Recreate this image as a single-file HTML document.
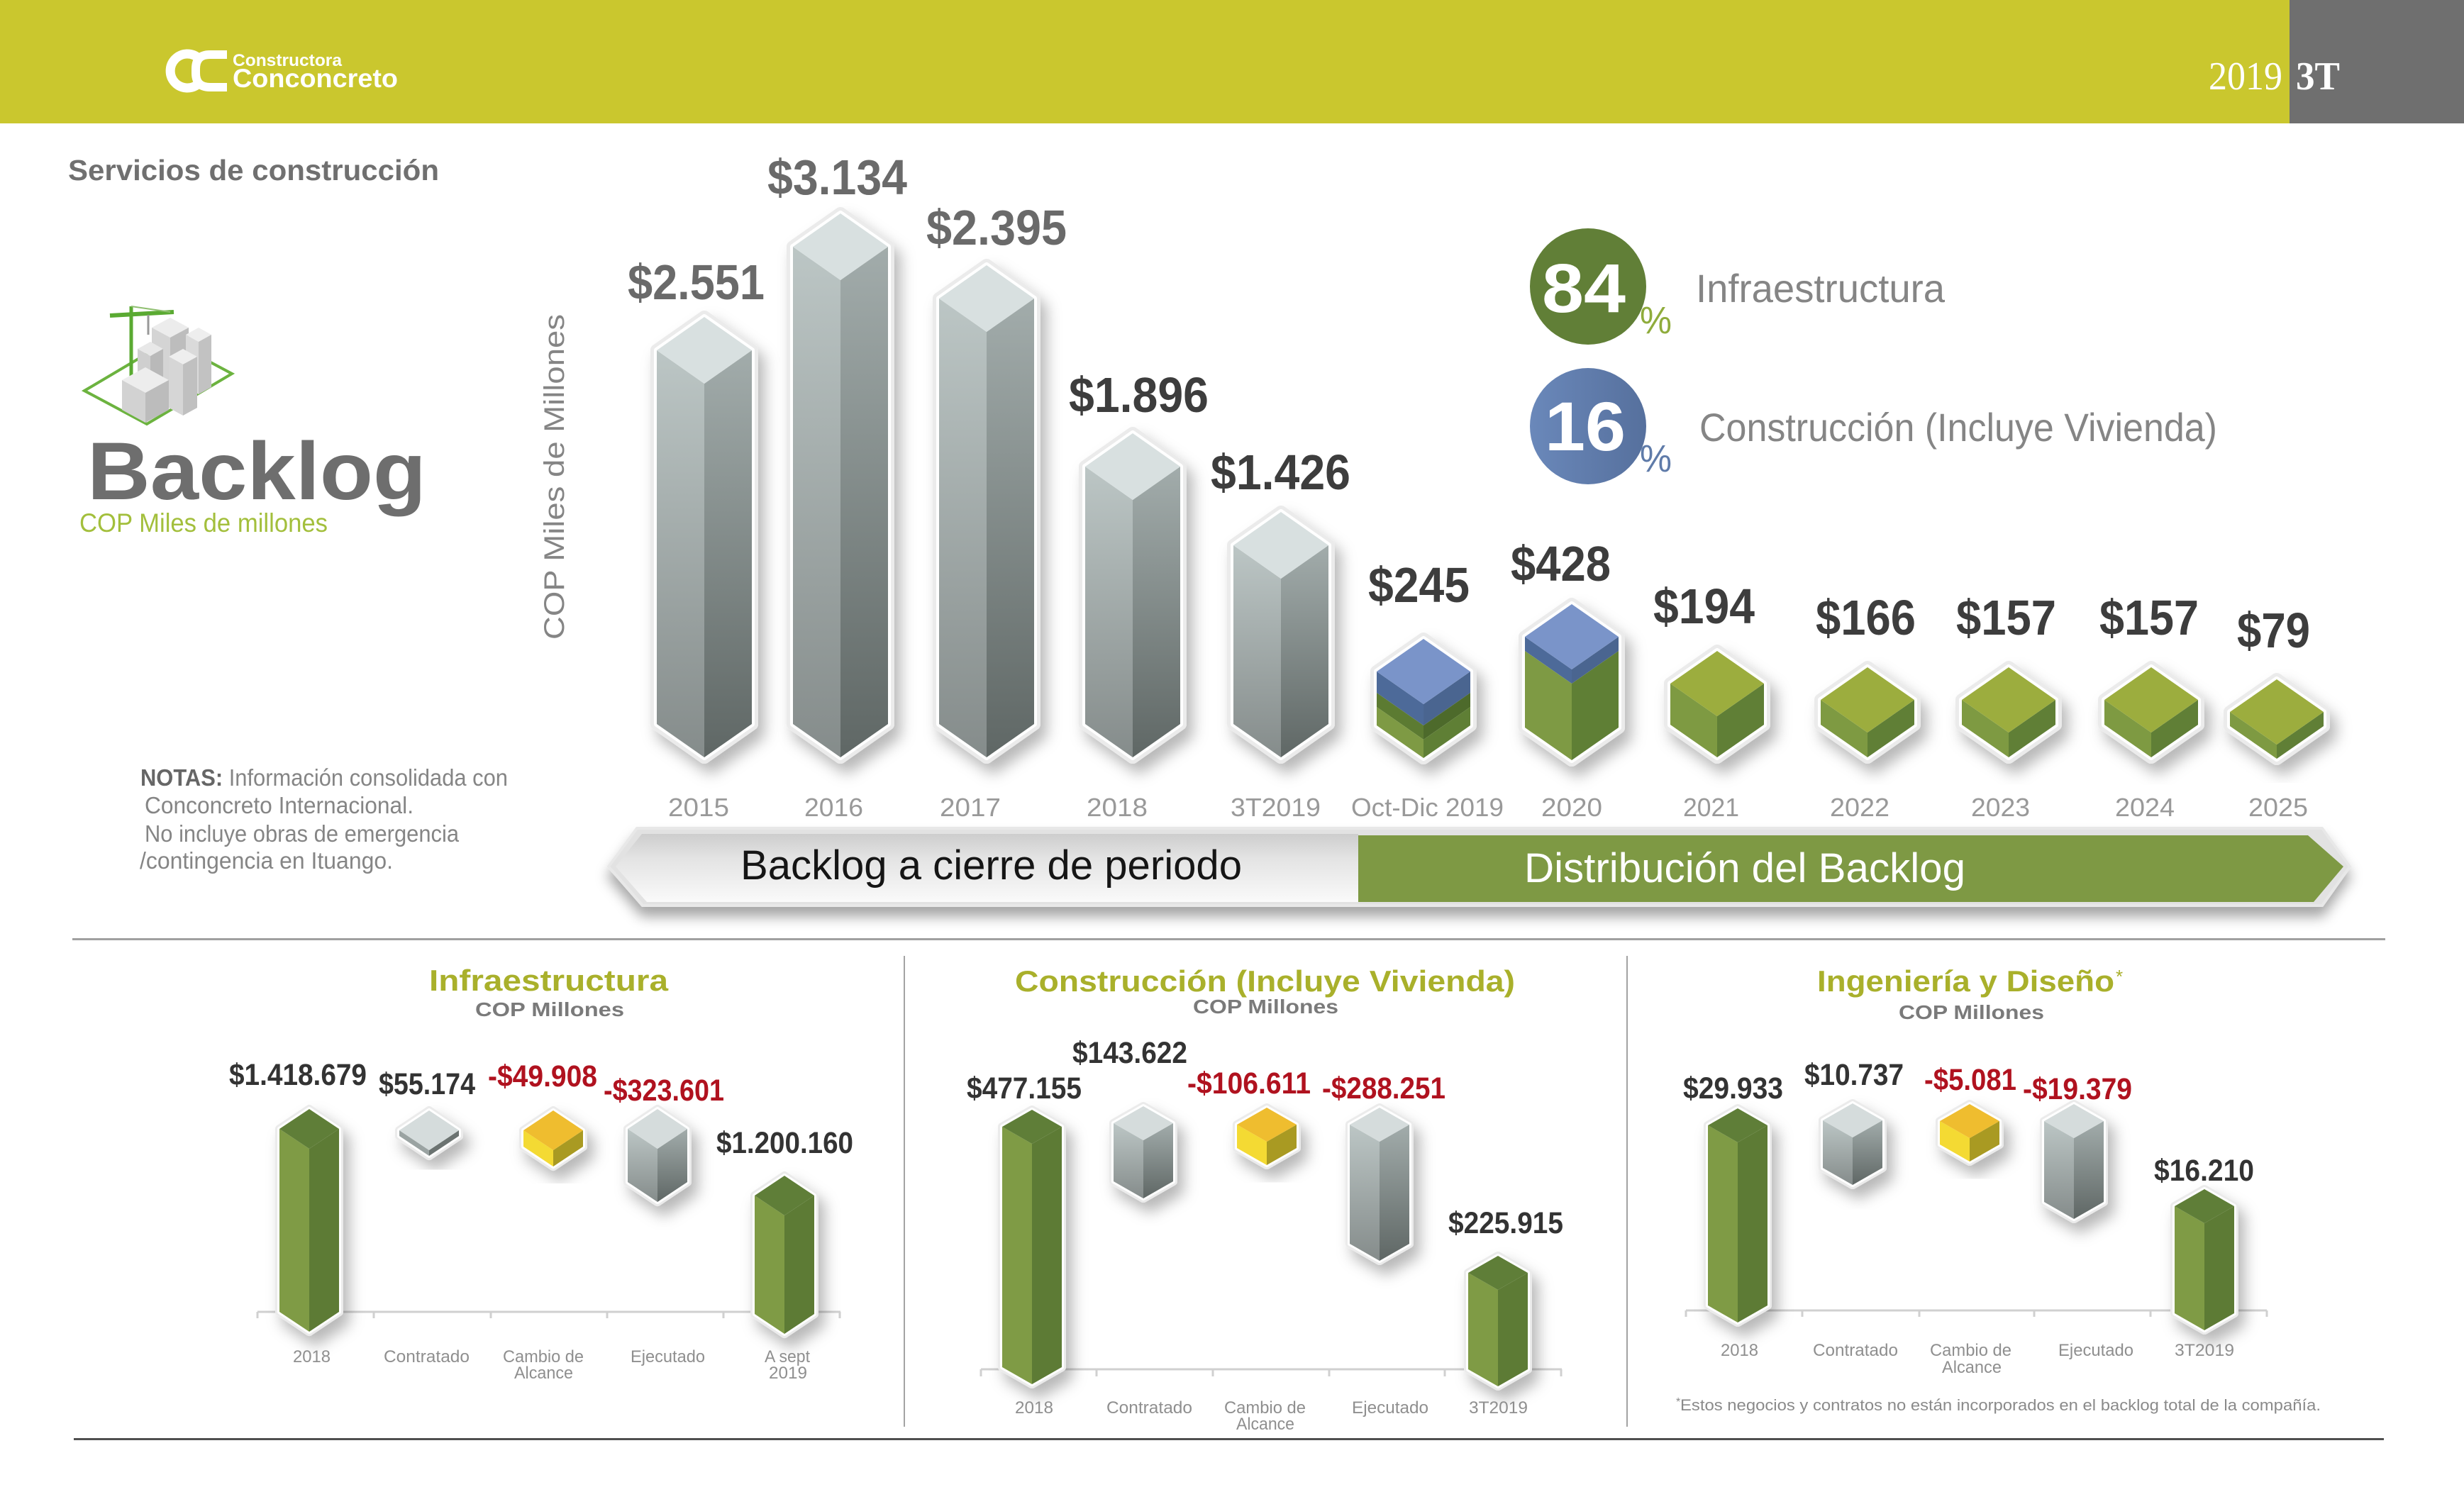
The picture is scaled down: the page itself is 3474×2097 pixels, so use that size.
<!DOCTYPE html>
<html><head><meta charset="utf-8"><style>
html,body{margin:0;padding:0;background:#fff;width:3474px;height:2097px;overflow:hidden}
svg{display:block}
text{font-family:"Liberation Sans",sans-serif}
</style></head><body>
<svg width="3474" height="2097" viewBox="0 0 3474 2097" xmlns="http://www.w3.org/2000/svg">
<defs>
<filter id="sh" x="-40%" y="-20%" width="190%" height="150%"><feDropShadow dx="9" dy="14" stdDeviation="10" flood-color="#000" flood-opacity="0.28"/></filter>
<filter id="sh2" x="-10%" y="-40%" width="120%" height="200%"><feDropShadow dx="0" dy="14" stdDeviation="9" flood-color="#000" flood-opacity="0.35"/></filter>
<linearGradient id="gL" x1="0" y1="0" x2="0" y2="1"><stop offset="0" stop-color="#bcc6c5"/><stop offset="1" stop-color="#858c8b"/></linearGradient>
<linearGradient id="gR" x1="0" y1="0" x2="0" y2="1"><stop offset="0" stop-color="#a2acab"/><stop offset="1" stop-color="#5f6765"/></linearGradient>
<linearGradient id="rb" x1="0" y1="0" x2="0" y2="1"><stop offset="0" stop-color="#cdcdcd"/><stop offset="0.35" stop-color="#e3e3e3"/><stop offset="1" stop-color="#fafafa"/></linearGradient>
<linearGradient id="bl" x1="0" y1="0" x2="1" y2="0"><stop offset="0" stop-color="#6a88ba"/><stop offset="1" stop-color="#56709d"/></linearGradient>
</defs>

<!-- Header -->
<rect x="0" y="0" width="3474" height="174" fill="#cac72e"/>
<rect x="3228" y="0" width="246" height="174" fill="#6f6f6f"/>
<text x="3114" y="126" font-size="56" fill="#fff" textLength="104" lengthAdjust="spacingAndGlyphs" style="font-family:'Liberation Serif',serif">2019</text>
<text x="3237" y="126" font-size="56" font-weight="bold" fill="#fff" textLength="62" lengthAdjust="spacingAndGlyphs" style="font-family:'Liberation Serif',serif">3T</text>
<!-- logo -->
<path d="M 280 82 A 24 24 0 1 0 280 118" fill="none" stroke="#fff" stroke-width="13"/>
<path d="M 320 77 H 296 Q 276 77 276 97 V 103 Q 276 123 296 123 H 320" fill="none" stroke="#fff" stroke-width="12"/>
<text x="328" y="93" font-size="24" font-weight="bold" fill="#fff" textLength="154" lengthAdjust="spacingAndGlyphs">Constructora</text>
<text x="328" y="123" font-size="37" font-weight="bold" fill="#fff" textLength="233" lengthAdjust="spacingAndGlyphs">Conconcreto</text>

<!-- Left titles -->
<text x="96" y="254" font-size="41" font-weight="bold" fill="#707070" textLength="523" lengthAdjust="spacingAndGlyphs">Servicios de construcción</text>

<!-- icon -->
<polygon points="119,551 239,480 327,527 207,598" fill="none" stroke="#6cb33f" stroke-width="4"/>
<line x1="185" y1="432" x2="185" y2="540" stroke="#5aaa32" stroke-width="5"/>
<line x1="155" y1="445" x2="245" y2="440" stroke="#5aaa32" stroke-width="6"/>
<line x1="185" y1="432" x2="240" y2="440" stroke="#8fbf70" stroke-width="2"/>
<line x1="209" y1="444" x2="209" y2="472" stroke="#999" stroke-width="3"/>
<polygon points="240,448 266,462 240,476 214,462" fill="#ececec"/><polygon points="214,462 240,476 240,571 214,557" fill="#d4d4d4"/><polygon points="266,462 240,476 240,571 266,557" fill="#bdbdbd"/>
<polygon points="280,462 298,472 280,482 262,472" fill="#eeeeee"/><polygon points="262,472 280,482 280,556 262,546" fill="#dadada"/><polygon points="298,472 280,482 280,556 298,546" fill="#c2c2c2"/>
<polygon points="212,482 230,492 212,502 194,492" fill="#e8e8e8"/><polygon points="194,492 212,502 212,564 194,554" fill="#cfcfcf"/><polygon points="230,492 212,502 212,564 230,554" fill="#b9b9b9"/>
<polygon points="258,492 278,503 258,514 238,503" fill="#eeeeee"/><polygon points="238,503 258,514 258,586 238,575" fill="#d6d6d6"/><polygon points="278,503 258,514 258,586 278,575" fill="#c0c0c0"/>
<polygon points="205,518 238,536 205,554 172,536" fill="#ededed"/><polygon points="172,536 205,554 205,596 172,578" fill="#d2d2d2"/><polygon points="238,536 205,554 205,596 238,578" fill="#bcbcbc"/>

<text x="123" y="704" font-size="115" font-weight="bold" fill="#6e6e6e" textLength="478" lengthAdjust="spacingAndGlyphs">Backlog</text>
<text x="112" y="750" font-size="37" fill="#a3bf3c" textLength="350" lengthAdjust="spacingAndGlyphs">COP Miles de millones</text>

<!-- y axis label -->
<text transform="translate(795,902) rotate(-90)" x="0" y="0" font-size="40" fill="#858585" textLength="459" lengthAdjust="spacingAndGlyphs">COP Miles de Millones</text>

<!-- Notes -->
<text x="198" y="1108" font-size="33" fill="#858585" textLength="518" lengthAdjust="spacingAndGlyphs"><tspan font-weight="bold" fill="#666">NOTAS:</tspan> Información consolidada con</text>
<text x="204" y="1147" font-size="33" fill="#858585" textLength="379" lengthAdjust="spacingAndGlyphs">Conconcreto Internacional.</text>
<text x="204" y="1187" font-size="33" fill="#858585" textLength="443" lengthAdjust="spacingAndGlyphs">No incluye obras de emergencia</text>
<text x="197" y="1225" font-size="33" fill="#858585" textLength="357" lengthAdjust="spacingAndGlyphs">/contingencia en Ituango.</text>

<!-- Circles legend -->
<circle cx="2239" cy="404" r="82" fill="#617f37"/>
<text x="2174" y="440" font-size="97" font-weight="bold" fill="#fff" textLength="118" lengthAdjust="spacingAndGlyphs">84</text>
<text x="2312" y="470" font-size="54" fill="#8fac3c" textLength="45" lengthAdjust="spacingAndGlyphs">%</text>
<text x="2391" y="426" font-size="56" fill="#858585" textLength="351" lengthAdjust="spacingAndGlyphs">Infraestructura</text>
<circle cx="2239" cy="601" r="82" fill="url(#bl)"/>
<text x="2178" y="635" font-size="97" font-weight="bold" fill="#fff" textLength="114" lengthAdjust="spacingAndGlyphs">16</text>
<text x="2312" y="665" font-size="54" fill="#5f7ba9" textLength="45" lengthAdjust="spacingAndGlyphs">%</text>
<text x="2396" y="622" font-size="56" fill="#858585" textLength="730" lengthAdjust="spacingAndGlyphs">Construcción (Incluye Vivienda)</text>

<!-- Main bars -->
<g stroke-linejoin="round">
<g filter="url(#sh)"><polygon points="993,447 1060,494 1060,1021 993,1068 926,1021 926,494" fill="#fff" stroke="#ebebeb" stroke-width="18"/><polygon points="993,447 1060,494 1060,1021 993,1068 926,1021 926,494" fill="#fff" stroke="#fff" stroke-width="8"/></g>
<polygon points="926,494 993,541 993,1068 926,1021" fill="url(#gL)"/><polygon points="1060,494 993,541 993,1068 1060,1021" fill="url(#gR)"/><polygon points="993,447 1060,494 993,541 926,494" fill="#d8e0e0"/>
<g filter="url(#sh)"><polygon points="1185,301 1252,348 1252,1021 1185,1068 1118,1021 1118,348" fill="#fff" stroke="#ebebeb" stroke-width="18"/><polygon points="1185,301 1252,348 1252,1021 1185,1068 1118,1021 1118,348" fill="#fff" stroke="#fff" stroke-width="8"/></g>
<polygon points="1118,348 1185,395 1185,1068 1118,1021" fill="url(#gL)"/><polygon points="1252,348 1185,395 1185,1068 1252,1021" fill="url(#gR)"/><polygon points="1185,301 1252,348 1185,395 1118,348" fill="#d8e0e0"/>
<g filter="url(#sh)"><polygon points="1391,374 1458,421 1458,1021 1391,1068 1324,1021 1324,421" fill="#fff" stroke="#ebebeb" stroke-width="18"/><polygon points="1391,374 1458,421 1458,1021 1391,1068 1324,1021 1324,421" fill="#fff" stroke="#fff" stroke-width="8"/></g>
<polygon points="1324,421 1391,468 1391,1068 1324,1021" fill="url(#gL)"/><polygon points="1458,421 1391,468 1391,1068 1458,1021" fill="url(#gR)"/><polygon points="1391,374 1458,421 1391,468 1324,421" fill="#d8e0e0"/>
<g filter="url(#sh)"><polygon points="1597,611 1664,658 1664,1021 1597,1068 1530,1021 1530,658" fill="#fff" stroke="#ebebeb" stroke-width="18"/><polygon points="1597,611 1664,658 1664,1021 1597,1068 1530,1021 1530,658" fill="#fff" stroke="#fff" stroke-width="8"/></g>
<polygon points="1530,658 1597,705 1597,1068 1530,1021" fill="url(#gL)"/><polygon points="1664,658 1597,705 1597,1068 1664,1021" fill="url(#gR)"/><polygon points="1597,611 1664,658 1597,705 1530,658" fill="#d8e0e0"/>
<g filter="url(#sh)"><polygon points="1806,722 1873,769 1873,1021 1806,1068 1739,1021 1739,769" fill="#fff" stroke="#ebebeb" stroke-width="18"/><polygon points="1806,722 1873,769 1873,1021 1806,1068 1739,1021 1739,769" fill="#fff" stroke="#fff" stroke-width="8"/></g>
<polygon points="1739,769 1806,816 1806,1068 1739,1021" fill="url(#gL)"/><polygon points="1873,769 1806,816 1806,1068 1873,1021" fill="url(#gR)"/><polygon points="1806,722 1873,769 1806,816 1739,769" fill="#d8e0e0"/>
<g filter="url(#sh)"><polygon points="2007,901 2073,947 2073,1023 2007,1069 1941,1023 1941,947" fill="#fff" stroke="#ebebeb" stroke-width="18"/><polygon points="2007,901 2073,947 2073,1023 2007,1069 1941,1023 1941,947" fill="#fff" stroke="#fff" stroke-width="8"/></g>
<polygon points="1941,947 2007,993 2007,1023 1941,977" fill="#4d6a99"/><polygon points="1941,977 2007,1023 2007,1043 1941,997" fill="#5c7b32"/><polygon points="1941,997 2007,1043 2007,1069 1941,1023" fill="#7e9a44"/>
<polygon points="2073,947 2007,993 2007,1023 2073,977" fill="#4a6590"/><polygon points="2073,977 2007,1023 2007,1043 2073,997" fill="#4d6a2b"/><polygon points="2073,997 2007,1043 2007,1069 2073,1023" fill="#5f7f35"/>
<polygon points="2007,901 2073,947 2007,993 1941,947" fill="#7a94c9"/>
<g filter="url(#sh)"><polygon points="2216,852 2282,898 2282,1026 2216,1072 2150,1026 2150,898" fill="#fff" stroke="#ebebeb" stroke-width="18"/><polygon points="2216,852 2282,898 2282,1026 2216,1072 2150,1026 2150,898" fill="#fff" stroke="#fff" stroke-width="8"/></g>
<polygon points="2150,898 2216,944 2216,964 2150,918" fill="#4d6a99"/><polygon points="2150,918 2216,964 2216,1072 2150,1026" fill="#7e9a44"/>
<polygon points="2282,898 2216,944 2216,964 2282,918" fill="#4a6590"/><polygon points="2282,918 2216,964 2216,1072 2282,1026" fill="#5f7f35"/>
<polygon points="2216,852 2282,898 2216,944 2150,898" fill="#7a94c9"/>
<g filter="url(#sh)"><polygon points="2421,918 2487,964 2487,1022 2421,1068 2355,1022 2355,964" fill="#fff" stroke="#ebebeb" stroke-width="18"/><polygon points="2421,918 2487,964 2487,1022 2421,1068 2355,1022 2355,964" fill="#fff" stroke="#fff" stroke-width="8"/></g>
<polygon points="2355,964 2421,1010 2421,1068 2355,1022" fill="#7e9a42"/><polygon points="2487,964 2421,1010 2421,1068 2487,1022" fill="#607f36"/><polygon points="2421,918 2487,964 2421,1010 2355,964" fill="#9cad3e"/>
<g filter="url(#sh)"><polygon points="2633,941 2699,987 2699,1022 2633,1068 2567,1022 2567,987" fill="#fff" stroke="#ebebeb" stroke-width="18"/><polygon points="2633,941 2699,987 2699,1022 2633,1068 2567,1022 2567,987" fill="#fff" stroke="#fff" stroke-width="8"/></g>
<polygon points="2567,987 2633,1033 2633,1068 2567,1022" fill="#7e9a42"/><polygon points="2699,987 2633,1033 2633,1068 2699,1022" fill="#607f36"/><polygon points="2633,941 2699,987 2633,1033 2567,987" fill="#9cad3e"/>
<g filter="url(#sh)"><polygon points="2832,941 2898,987 2898,1022 2832,1068 2766,1022 2766,987" fill="#fff" stroke="#ebebeb" stroke-width="18"/><polygon points="2832,941 2898,987 2898,1022 2832,1068 2766,1022 2766,987" fill="#fff" stroke="#fff" stroke-width="8"/></g>
<polygon points="2766,987 2832,1033 2832,1068 2766,1022" fill="#7e9a42"/><polygon points="2898,987 2832,1033 2832,1068 2898,1022" fill="#607f36"/><polygon points="2832,941 2898,987 2832,1033 2766,987" fill="#9cad3e"/>
<g filter="url(#sh)"><polygon points="3033,941 3099,987 3099,1022 3033,1068 2967,1022 2967,987" fill="#fff" stroke="#ebebeb" stroke-width="18"/><polygon points="3033,941 3099,987 3099,1022 3033,1068 2967,1022 2967,987" fill="#fff" stroke="#fff" stroke-width="8"/></g>
<polygon points="2967,987 3033,1033 3033,1068 2967,1022" fill="#7e9a42"/><polygon points="3099,987 3033,1033 3033,1068 3099,1022" fill="#607f36"/><polygon points="3033,941 3099,987 3033,1033 2967,987" fill="#9cad3e"/>
<g filter="url(#sh)"><polygon points="3210,958 3276,1004 3276,1024 3210,1070 3144,1024 3144,1004" fill="#fff" stroke="#ebebeb" stroke-width="18"/><polygon points="3210,958 3276,1004 3276,1024 3210,1070 3144,1024 3144,1004" fill="#fff" stroke="#fff" stroke-width="8"/></g>
<polygon points="3144,1004 3210,1050 3210,1070 3144,1024" fill="#7e9a42"/><polygon points="3276,1004 3210,1050 3210,1070 3276,1024" fill="#607f36"/><polygon points="3210,958 3276,1004 3210,1050 3144,1004" fill="#9cad3e"/>
</g>

<!-- Main value labels -->
<g font-weight="bold" font-size="70">
<text x="885" y="422" fill="#6a6a6a" textLength="193" lengthAdjust="spacingAndGlyphs">$2.551</text>
<text x="1082" y="274" fill="#6a6a6a" textLength="197" lengthAdjust="spacingAndGlyphs">$3.134</text>
<text x="1306" y="345" fill="#6a6a6a" textLength="198" lengthAdjust="spacingAndGlyphs">$2.395</text>
<text x="1507" y="581" fill="#3d3d3d" textLength="197" lengthAdjust="spacingAndGlyphs">$1.896</text>
<text x="1707" y="690" fill="#3d3d3d" textLength="197" lengthAdjust="spacingAndGlyphs">$1.426</text>
<text x="1929" y="849" fill="#3d3d3d" textLength="143" lengthAdjust="spacingAndGlyphs">$245</text>
<text x="2130" y="819" fill="#3d3d3d" textLength="141" lengthAdjust="spacingAndGlyphs">$428</text>
<text x="2331" y="879" fill="#3d3d3d" textLength="143" lengthAdjust="spacingAndGlyphs">$194</text>
<text x="2560" y="895" fill="#3d3d3d" textLength="141" lengthAdjust="spacingAndGlyphs">$166</text>
<text x="2758" y="895" fill="#3d3d3d" textLength="141" lengthAdjust="spacingAndGlyphs">$157</text>
<text x="2960" y="895" fill="#3d3d3d" textLength="140" lengthAdjust="spacingAndGlyphs">$157</text>
<text x="3154" y="913" fill="#3d3d3d" textLength="103" lengthAdjust="spacingAndGlyphs">$79</text>
</g>

<!-- Year labels -->
<g font-size="36" fill="#999">
<text x="942" y="1151" textLength="86" lengthAdjust="spacingAndGlyphs">2015</text>
<text x="1134" y="1151" textLength="83" lengthAdjust="spacingAndGlyphs">2016</text>
<text x="1325" y="1151" textLength="86" lengthAdjust="spacingAndGlyphs">2017</text>
<text x="1532" y="1151" textLength="86" lengthAdjust="spacingAndGlyphs">2018</text>
<text x="1735" y="1151" textLength="127" lengthAdjust="spacingAndGlyphs">3T2019</text>
<text x="1905" y="1151" textLength="215" lengthAdjust="spacingAndGlyphs">Oct-Dic 2019</text>
<text x="2173" y="1151" textLength="86" lengthAdjust="spacingAndGlyphs">2020</text>
<text x="2373" y="1151" textLength="79" lengthAdjust="spacingAndGlyphs">2021</text>
<text x="2580" y="1151" textLength="84" lengthAdjust="spacingAndGlyphs">2022</text>
<text x="2779" y="1151" textLength="83" lengthAdjust="spacingAndGlyphs">2023</text>
<text x="2982" y="1151" textLength="84" lengthAdjust="spacingAndGlyphs">2024</text>
<text x="3170" y="1151" textLength="84" lengthAdjust="spacingAndGlyphs">2025</text>
</g>

<!-- Ribbon -->
<polygon points="898,1168 3274,1168 3313,1222 3274,1277 906,1277 858,1222" fill="#e2e2e2" stroke="#e8e8e8" stroke-width="4" stroke-linejoin="round" filter="url(#sh2)"/>
<polygon points="905,1176 1915,1176 1915,1272 912,1272 868,1222" fill="url(#rb)"/>
<polygon points="1915,1178 3254,1178 3304,1222 3262,1272 1915,1272" fill="#7e9944"/>
<text x="1044" y="1240" font-size="58" fill="#151515" textLength="707" lengthAdjust="spacingAndGlyphs">Backlog a cierre de periodo</text>
<text x="2149" y="1244" font-size="58" fill="#fff" textLength="622" lengthAdjust="spacingAndGlyphs">Distribución del Backlog</text>

<!-- separators -->
<rect x="102" y="1323" width="3261" height="3" fill="#a0a0a0"/>
<rect x="1274" y="1348" width="2" height="664" fill="#a3a3a3"/>
<rect x="2293" y="1348" width="2" height="664" fill="#a3a3a3"/>
<rect x="104" y="2028" width="3257" height="3" fill="#505050"/>

<!-- Panel titles -->
<text x="605" y="1397" font-size="42" font-weight="bold" fill="#a9b02b" textLength="337" lengthAdjust="spacingAndGlyphs">Infraestructura</text>
<text x="670" y="1433" font-size="28" font-weight="bold" fill="#7a7a7a" textLength="210" lengthAdjust="spacingAndGlyphs">COP Millones</text>
<text x="1431" y="1398" font-size="42" font-weight="bold" fill="#a9b02b" textLength="705" lengthAdjust="spacingAndGlyphs">Construcción (Incluye Vivienda)</text>
<text x="1682" y="1429" font-size="28" font-weight="bold" fill="#7a7a7a" textLength="205" lengthAdjust="spacingAndGlyphs">COP Millones</text>
<text x="2562" y="1398" font-size="42" font-weight="bold" fill="#a9b02b" textLength="419" lengthAdjust="spacingAndGlyphs">Ingeniería y Diseño</text>
<text x="2983" y="1386" font-size="26" fill="#a9b02b">*</text>
<text x="2677" y="1437" font-size="28" font-weight="bold" fill="#7a7a7a" textLength="205" lengthAdjust="spacingAndGlyphs">COP Millones</text>

<!-- Axes -->
<g stroke="#d0d0d0" stroke-width="3" fill="none">
<path d="M363 1850 H1185 M363 1850 V1859 M527 1850 V1859 M692 1850 V1859 M856 1850 V1859 M1020 1850 V1859 M1184 1850 V1859"/>
<path d="M1383 1931 H2202 M1383 1931 V1941 M1546 1931 V1941 M1710 1931 V1941 M1874 1931 V1941 M2037 1931 V1941 M2201 1931 V1941"/>
<path d="M2377 1848 H3196 M2377 1848 V1857 M2541 1848 V1857 M2706 1848 V1857 M2868 1848 V1857 M3032 1848 V1857 M3196 1848 V1857"/>
</g>

<!-- Panel bars -->
<g stroke-linejoin="round">
<g filter="url(#sh)"><polygon points="436,1564 478,1592 478,1850 436,1878 394,1850 394,1592" fill="#fff" stroke="#ebebeb" stroke-width="12"/><polygon points="436,1564 478,1592 478,1850 436,1878 394,1850 394,1592" fill="#fff" stroke="#fff" stroke-width="6"/></g>
<polygon points="394,1592 436,1620 436,1878 394,1850" fill="#7f9b45"/><polygon points="478,1592 436,1620 436,1878 478,1850" fill="#5d7b35"/><polygon points="436,1564 478,1592 436,1620 394,1592" fill="#5f7e38"/>
<g filter="url(#sh)"><polygon points="605,1566 647,1594 647,1602 605,1630 563,1602 563,1594" fill="#fff" stroke="#ebebeb" stroke-width="12"/><polygon points="605,1566 647,1594 647,1602 605,1630 563,1602 563,1594" fill="#fff" stroke="#fff" stroke-width="6"/></g>
<polygon points="563,1594 605,1622 605,1630 563,1602" fill="#9aa3a2"/><polygon points="647,1594 605,1622 605,1630 647,1602" fill="#6b7371"/><polygon points="605,1566 647,1594 605,1622 563,1594" fill="#d5dcdc"/>
<g filter="url(#sh)"><polygon points="780,1566 822,1594 822,1617 780,1645 738,1617 738,1594" fill="#fff" stroke="#ebebeb" stroke-width="12"/><polygon points="780,1566 822,1594 822,1617 780,1645 738,1617 738,1594" fill="#fff" stroke="#fff" stroke-width="6"/></g>
<polygon points="738,1594 780,1622 780,1645 738,1617" fill="#f4da33"/><polygon points="822,1594 780,1622 780,1645 822,1617" fill="#a99a22"/><polygon points="780,1566 822,1594 780,1622 738,1594" fill="#efbd2f"/>
<g filter="url(#sh)"><polygon points="927,1564 969,1592 969,1667 927,1695 885,1667 885,1592" fill="#fff" stroke="#ebebeb" stroke-width="12"/><polygon points="927,1564 969,1592 969,1667 927,1695 885,1667 885,1592" fill="#fff" stroke="#fff" stroke-width="6"/></g>
<polygon points="885,1592 927,1620 927,1695 885,1667" fill="url(#gL)"/><polygon points="969,1592 927,1620 927,1695 969,1667" fill="url(#gR)"/><polygon points="927,1564 969,1592 927,1620 885,1592" fill="#d5dcdc"/>
<g filter="url(#sh)"><polygon points="1106,1658 1148,1686 1148,1853 1106,1881 1064,1853 1064,1686" fill="#fff" stroke="#ebebeb" stroke-width="12"/><polygon points="1106,1658 1148,1686 1148,1853 1106,1881 1064,1853 1064,1686" fill="#fff" stroke="#fff" stroke-width="6"/></g>
<polygon points="1064,1686 1106,1714 1106,1881 1064,1853" fill="#7f9b45"/><polygon points="1148,1686 1106,1714 1106,1881 1148,1853" fill="#5d7b35"/><polygon points="1106,1658 1148,1686 1106,1714 1064,1686" fill="#5f7e38"/>

<g filter="url(#sh)"><polygon points="1455,1565 1497,1589 1497,1928 1455,1952 1413,1928 1413,1589" fill="#fff" stroke="#ebebeb" stroke-width="12"/><polygon points="1455,1565 1497,1589 1497,1928 1455,1952 1413,1928 1413,1589" fill="#fff" stroke="#fff" stroke-width="6"/></g>
<polygon points="1413,1589 1455,1613 1455,1952 1413,1928" fill="#7f9b45"/><polygon points="1497,1589 1455,1613 1455,1952 1497,1928" fill="#5d7b35"/><polygon points="1455,1565 1497,1589 1455,1613 1413,1589" fill="#5f7e38"/>
<g filter="url(#sh)"><polygon points="1612,1560 1654,1584 1654,1666 1612,1690 1570,1666 1570,1584" fill="#fff" stroke="#ebebeb" stroke-width="12"/><polygon points="1612,1560 1654,1584 1654,1666 1612,1690 1570,1666 1570,1584" fill="#fff" stroke="#fff" stroke-width="6"/></g>
<polygon points="1570,1584 1612,1608 1612,1690 1570,1666" fill="url(#gL)"/><polygon points="1654,1584 1612,1608 1612,1690 1654,1666" fill="url(#gR)"/><polygon points="1612,1560 1654,1584 1612,1608 1570,1584" fill="#d5dcdc"/>
<g filter="url(#sh)"><polygon points="1786,1562 1828,1586 1828,1619 1786,1643 1744,1619 1744,1586" fill="#fff" stroke="#ebebeb" stroke-width="12"/><polygon points="1786,1562 1828,1586 1828,1619 1786,1643 1744,1619 1744,1586" fill="#fff" stroke="#fff" stroke-width="6"/></g>
<polygon points="1744,1586 1786,1610 1786,1643 1744,1619" fill="#f4da33"/><polygon points="1828,1586 1786,1610 1786,1643 1828,1619" fill="#a99a22"/><polygon points="1786,1562 1828,1586 1786,1610 1744,1586" fill="#efbd2f"/>
<g filter="url(#sh)"><polygon points="1945,1562 1987,1586 1987,1754 1945,1778 1903,1754 1903,1586" fill="#fff" stroke="#ebebeb" stroke-width="12"/><polygon points="1945,1562 1987,1586 1987,1754 1945,1778 1903,1754 1903,1586" fill="#fff" stroke="#fff" stroke-width="6"/></g>
<polygon points="1903,1586 1945,1610 1945,1778 1903,1754" fill="url(#gL)"/><polygon points="1987,1586 1945,1610 1945,1778 1987,1754" fill="url(#gR)"/><polygon points="1945,1562 1987,1586 1945,1610 1903,1586" fill="#d5dcdc"/>
<g filter="url(#sh)"><polygon points="2112,1771 2154,1795 2154,1931 2112,1955 2070,1931 2070,1795" fill="#fff" stroke="#ebebeb" stroke-width="12"/><polygon points="2112,1771 2154,1795 2154,1931 2112,1955 2070,1931 2070,1795" fill="#fff" stroke="#fff" stroke-width="6"/></g>
<polygon points="2070,1795 2112,1819 2112,1955 2070,1931" fill="#7f9b45"/><polygon points="2154,1795 2112,1819 2112,1955 2154,1931" fill="#5d7b35"/><polygon points="2112,1771 2154,1795 2112,1819 2070,1795" fill="#5f7e38"/>

<g filter="url(#sh)"><polygon points="2450,1563 2492,1587 2492,1841 2450,1865 2408,1841 2408,1587" fill="#fff" stroke="#ebebeb" stroke-width="12"/><polygon points="2450,1563 2492,1587 2492,1841 2450,1865 2408,1841 2408,1587" fill="#fff" stroke="#fff" stroke-width="6"/></g>
<polygon points="2408,1587 2450,1611 2450,1865 2408,1841" fill="#7f9b45"/><polygon points="2492,1587 2450,1611 2450,1865 2492,1841" fill="#5d7b35"/><polygon points="2450,1563 2492,1587 2450,1611 2408,1587" fill="#5f7e38"/>
<g filter="url(#sh)"><polygon points="2612,1556 2654,1580 2654,1647 2612,1671 2570,1647 2570,1580" fill="#fff" stroke="#ebebeb" stroke-width="12"/><polygon points="2612,1556 2654,1580 2654,1647 2612,1671 2570,1647 2570,1580" fill="#fff" stroke="#fff" stroke-width="6"/></g>
<polygon points="2570,1580 2612,1604 2612,1671 2570,1647" fill="url(#gL)"/><polygon points="2654,1580 2612,1604 2612,1671 2654,1647" fill="url(#gR)"/><polygon points="2612,1556 2654,1580 2612,1604 2570,1580" fill="#d5dcdc"/>
<g filter="url(#sh)"><polygon points="2777,1557 2819,1581 2819,1614 2777,1638 2735,1614 2735,1581" fill="#fff" stroke="#ebebeb" stroke-width="12"/><polygon points="2777,1557 2819,1581 2819,1614 2777,1638 2735,1614 2735,1581" fill="#fff" stroke="#fff" stroke-width="6"/></g>
<polygon points="2735,1581 2777,1605 2777,1638 2735,1614" fill="#f4da33"/><polygon points="2819,1581 2777,1605 2777,1638 2819,1614" fill="#a99a22"/><polygon points="2777,1557 2819,1581 2777,1605 2735,1581" fill="#efbd2f"/>
<g filter="url(#sh)"><polygon points="2924,1557 2966,1581 2966,1695 2924,1719 2882,1695 2882,1581" fill="#fff" stroke="#ebebeb" stroke-width="12"/><polygon points="2924,1557 2966,1581 2966,1695 2924,1719 2882,1695 2882,1581" fill="#fff" stroke="#fff" stroke-width="6"/></g>
<polygon points="2882,1581 2924,1605 2924,1719 2882,1695" fill="url(#gL)"/><polygon points="2966,1581 2924,1605 2924,1719 2966,1695" fill="url(#gR)"/><polygon points="2924,1557 2966,1581 2924,1605 2882,1581" fill="#d5dcdc"/>
<g filter="url(#sh)"><polygon points="3108,1677 3150,1701 3150,1852 3108,1876 3066,1852 3066,1701" fill="#fff" stroke="#ebebeb" stroke-width="12"/><polygon points="3108,1677 3150,1701 3150,1852 3108,1876 3066,1852 3066,1701" fill="#fff" stroke="#fff" stroke-width="6"/></g>
<polygon points="3066,1701 3108,1725 3108,1876 3066,1852" fill="#7f9b45"/><polygon points="3150,1701 3108,1725 3108,1876 3150,1852" fill="#5d7b35"/><polygon points="3108,1677 3150,1701 3108,1725 3066,1701" fill="#5f7e38"/>
</g>

<!-- Panel value labels -->
<g font-weight="bold" font-size="43">
<text x="323" y="1530" fill="#333" textLength="194" lengthAdjust="spacingAndGlyphs">$1.418.679</text>
<text x="534" y="1543" fill="#333" textLength="136" lengthAdjust="spacingAndGlyphs">$55.174</text>
<text x="688" y="1532" fill="#b0121f" textLength="154" lengthAdjust="spacingAndGlyphs">-$49.908</text>
<text x="851" y="1552" fill="#b0121f" textLength="170" lengthAdjust="spacingAndGlyphs">-$323.601</text>
<text x="1010" y="1626" fill="#333" textLength="193" lengthAdjust="spacingAndGlyphs">$1.200.160</text>

<text x="1363" y="1549" fill="#333" textLength="162" lengthAdjust="spacingAndGlyphs">$477.155</text>
<text x="1512" y="1499" fill="#333" textLength="162" lengthAdjust="spacingAndGlyphs">$143.622</text>
<text x="1674" y="1542" fill="#b0121f" textLength="174" lengthAdjust="spacingAndGlyphs">-$106.611</text>
<text x="1864" y="1549" fill="#b0121f" textLength="174" lengthAdjust="spacingAndGlyphs">-$288.251</text>
<text x="2042" y="1739" fill="#333" textLength="162" lengthAdjust="spacingAndGlyphs">$225.915</text>

<text x="2373" y="1549" fill="#333" textLength="141" lengthAdjust="spacingAndGlyphs">$29.933</text>
<text x="2544" y="1530" fill="#333" textLength="140" lengthAdjust="spacingAndGlyphs">$10.737</text>
<text x="2713" y="1537" fill="#b0121f" textLength="130" lengthAdjust="spacingAndGlyphs">-$5.081</text>
<text x="2852" y="1550" fill="#b0121f" textLength="154" lengthAdjust="spacingAndGlyphs">-$19.379</text>
<text x="3037" y="1665" fill="#333" textLength="141" lengthAdjust="spacingAndGlyphs">$16.210</text>
</g>

<!-- Category labels -->
<g font-size="24" fill="#8f8f8f">
<text x="413" y="1921" textLength="53" lengthAdjust="spacingAndGlyphs">2018</text>
<text x="541" y="1921" textLength="121" lengthAdjust="spacingAndGlyphs">Contratado</text>
<text x="709" y="1921" textLength="114" lengthAdjust="spacingAndGlyphs">Cambio de</text>
<text x="725" y="1944" textLength="83" lengthAdjust="spacingAndGlyphs">Alcance</text>
<text x="889" y="1921" textLength="105" lengthAdjust="spacingAndGlyphs">Ejecutado</text>
<text x="1078" y="1921" textLength="64" lengthAdjust="spacingAndGlyphs">A sept</text>
<text x="1084" y="1944" textLength="54" lengthAdjust="spacingAndGlyphs">2019</text>

<text x="1431" y="1993" textLength="54" lengthAdjust="spacingAndGlyphs">2018</text>
<text x="1560" y="1993" textLength="121" lengthAdjust="spacingAndGlyphs">Contratado</text>
<text x="1726" y="1993" textLength="115" lengthAdjust="spacingAndGlyphs">Cambio de</text>
<text x="1743" y="2016" textLength="82" lengthAdjust="spacingAndGlyphs">Alcance</text>
<text x="1906" y="1993" textLength="108" lengthAdjust="spacingAndGlyphs">Ejecutado</text>
<text x="2071" y="1993" textLength="83" lengthAdjust="spacingAndGlyphs">3T2019</text>

<text x="2426" y="1912" textLength="53" lengthAdjust="spacingAndGlyphs">2018</text>
<text x="2556" y="1912" textLength="120" lengthAdjust="spacingAndGlyphs">Contratado</text>
<text x="2721" y="1912" textLength="115" lengthAdjust="spacingAndGlyphs">Cambio de</text>
<text x="2738" y="1936" textLength="84" lengthAdjust="spacingAndGlyphs">Alcance</text>
<text x="2902" y="1912" textLength="106" lengthAdjust="spacingAndGlyphs">Ejecutado</text>
<text x="3066" y="1912" textLength="84" lengthAdjust="spacingAndGlyphs">3T2019</text>
</g>
<text x="2363" y="1982" font-size="16" fill="#8a8a8a">*</text>
<text x="2369" y="1989" font-size="22" fill="#8a8a8a" textLength="903" lengthAdjust="spacingAndGlyphs">Estos negocios y contratos no están incorporados en el backlog total de la compañía.</text>
</svg>
</body></html>
